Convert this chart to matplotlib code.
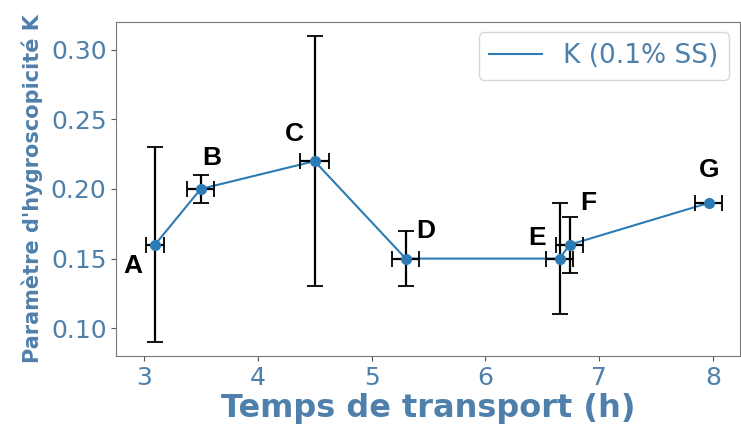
import matplotlib
matplotlib.use("Agg")
import matplotlib.pyplot as plt

# points A..G
labels = ["A", "B", "C", "D", "E", "F", "G"]
temps = [3.1, 3.5, 4.5, 5.3, 6.65, 6.74, 7.96]
kappa = [0.16, 0.20, 0.22, 0.15, 0.15, 0.16, 0.19]
k_err = [0.07, 0.01, 0.09, 0.02, 0.04, 0.02, 0.0]
t_err = [0.08, 0.12, 0.13, 0.12, 0.12, 0.12, 0.12]

# label offsets in pixels from each point
offsets = [(-22, -21), (11, 31), (-20, 27), (20, 28), (-22, 21), (19, 42), (0, 33)]

txt_col = "#4f80ab"
line_col = "#2b7bb4"

fig = plt.figure(figsize=(7.41, 4.30), dpi=100)
ax = fig.add_axes([0.157, 0.172, 0.841, 0.777])

ax.plot(temps, kappa, color=line_col, lw=1.5, label="K (0.1% SS)")
ax.errorbar(temps, kappa, yerr=k_err, xerr=t_err, fmt="o", color=line_col,
            ms=7, ecolor="black", elinewidth=1.6, capsize=6, capthick=1.3)

for lab, x, y, (dx, dy) in zip(labels, temps, kappa, offsets):
    ax.annotate(lab, (x, y), xytext=(dx, dy), textcoords="offset pixels",
                ha="center", va="center", fontsize=19, fontweight="bold",
                fontfamily="Liberation Sans", color="black")

ax.set_xlim(2.76, 8.23)
ax.set_ylim(0.08, 0.32)
ax.set_xticks([3, 4, 5, 6, 7, 8])
ax.set_yticks([0.10, 0.15, 0.20, 0.25, 0.30])
ax.set_yticklabels(["0.10", "0.15", "0.20", "0.25", "0.30"])
ax.tick_params(labelsize=18, labelcolor=txt_col, color="#555555")
for s in ax.spines.values():
    s.set_color("#777777")

ax.set_xlabel("Temps de transport (h)", fontsize=23, fontweight="bold",
              color=txt_col, labelpad=2)
ax.set_ylabel("Paramètre d'hygroscopicité K", fontsize=15, fontweight="bold",
              color=txt_col, labelpad=6)

leg = ax.legend(loc="upper right", fontsize=19, handlelength=2.0,
                borderaxespad=0.4)
for t in leg.get_texts():
    t.set_color(txt_col)

fig.savefig("out.png", dpi=100)
